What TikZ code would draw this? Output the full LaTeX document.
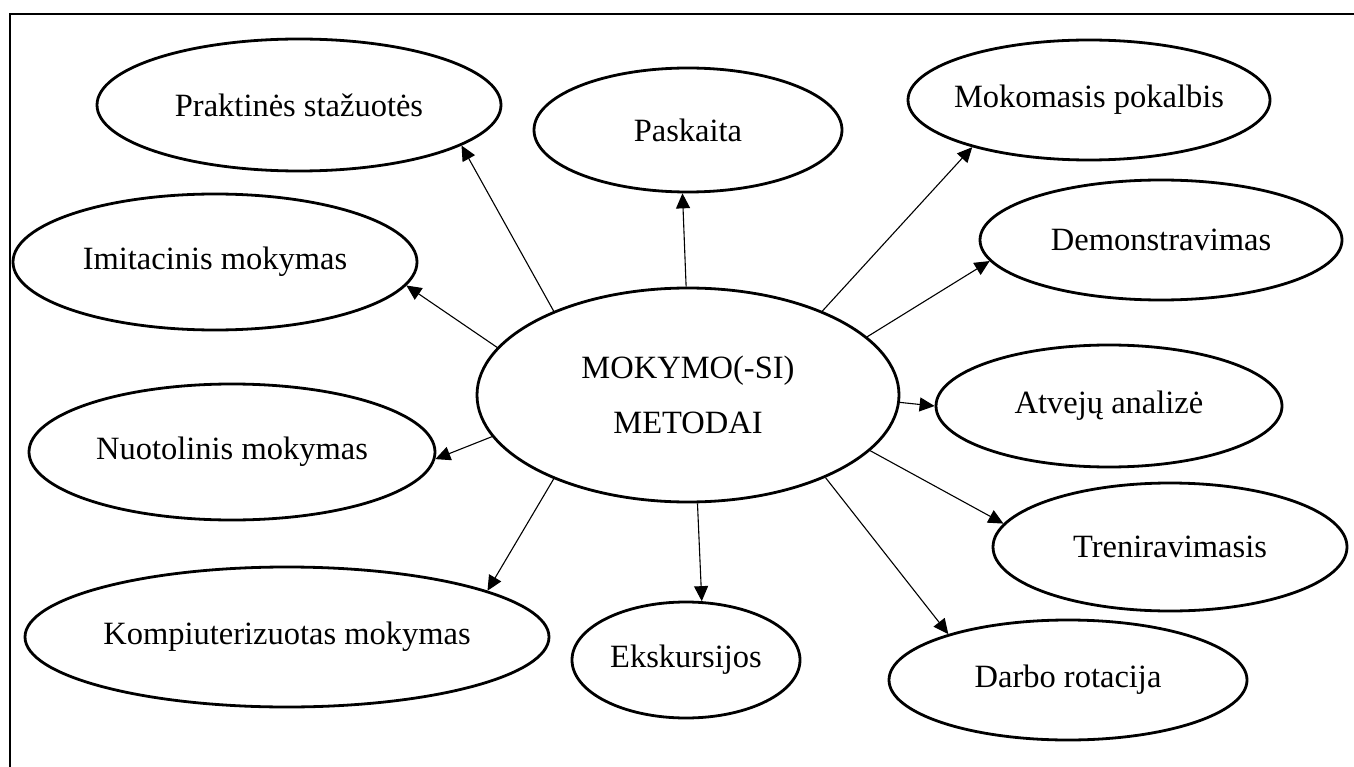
\documentclass[tikz,border=0pt]{standalone}
\usepackage{fontspec}
\setmainfont{Liberation Serif}
\usetikzlibrary{arrows.meta,shapes.geometric}
\begin{document}
\begin{tikzpicture}[x=1pt,y=-1pt,
  method/.style={draw,ellipse,line width=2.8pt,inner sep=0pt},
  caption/.style={align=center,inner sep=0pt,font=\fontsize{32.5}{55}\selectfont},
  link/.style={line width=1.1pt,-{Triangle[length=15pt,width=14pt]}}]
\clip (0,0) rectangle (1354,767);
% page frame
\draw[line width=1.6pt] (10,800) -- (10,14) -- (1400,14);
% central node
\node[method,minimum width=422pt,minimum height=214pt,
  label={[caption]center:MOKYMO(-SI)\\METODAI}] (c) at (688,395) {};
% surrounding methods
\node[method,minimum width=404pt,minimum height=132pt,
  label={[caption]center:Praktinės stažuotės}] (prak) at (299,105) {};
\node[method,minimum width=308pt,minimum height=124pt,
  label={[caption]center:Paskaita}] (pask) at (688,130) {};
\node[method,minimum width=362pt,minimum height=120pt,
  label={[caption]center:Mokomasis pokalbis}] (mok) at (1089,100) {};
\node[method,minimum width=404pt,minimum height=136pt,
  label={[caption]center:Imitacinis mokymas}] (imit) at (215,262) {};
\node[method,minimum width=362pt,minimum height=120pt,
  label={[caption]center:Demonstravimas}] (demo) at (1161,240) {};
\node[method,minimum width=346pt,minimum height=122pt,
  label={[caption]center:Atvejų analizė}] (atv) at (1109,406) {};
\node[method,minimum width=406pt,minimum height=136pt,
  label={[caption]center:Nuotolinis mokymas}] (nuot) at (232,452) {};
\node[method,minimum width=354pt,minimum height=128pt,
  label={[caption]center:Treniravimasis}] (tren) at (1170,547) {};
\node[method,minimum width=524pt,minimum height=140pt,
  label={[caption]center:Kompiuterizuotas mokymas}] (komp) at (287,637) {};
\node[method,minimum width=228pt,minimum height=116pt,
  label={[caption]center:Ekskursijos}] (eksk) at (686,660) {};
\node[method,minimum width=358pt,minimum height=120pt,
  label={[caption]center:Darbo rotacija}] (darb) at (1068,680) {};
% connectors
\draw[link] (c.148.4) -- (prak.-14.2);
\draw[link] (c.91) -- (pask.265.5);
\draw[link] (c.32.6) -- (mok.202.2);
\draw[link] (c.18.4) -- (demo.187.9);
\draw[link] (c.-2.2) -- (atv.180);
\draw[link] (c.-17.5) -- (tren.172.8);
\draw[link] (c.-31) -- (darb.159);
\draw[link] (c.-85) -- (eksk.75.7);
\draw[link] (c.212.8) -- (komp.13);
\draw[link] (c.192) -- (nuot.-2.8);
\draw[link] (c.166.8) -- (imit.-7.3);
\end{tikzpicture}
\end{document}
